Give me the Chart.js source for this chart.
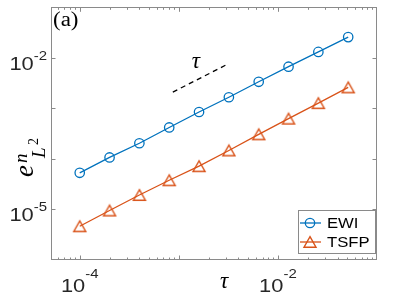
<!DOCTYPE html>
<html>
<head>
<meta charset="utf-8">
<script src="https://cdn.jsdelivr.net/npm/chart.js@4.4.1/dist/chart.umd.min.js"></script>
<style>
html,body{margin:0;padding:0;background:#fff;}
canvas{display:block;}
</style>
</head>
<body>
<canvas id="c" width="395" height="296"></canvas>
<script>
// ---- data ----
const tau  = [1e-4, 2e-4, 4e-4, 8e-4, 1.6e-3, 3.2e-3, 6.4e-3, 1.28e-2, 2.56e-2, 5.12e-2];
const ewi  = [5.31e-5, 1.07e-4, 2.04e-4, 4.19e-4, 8.47e-4, 1.66e-3, 3.36e-3, 6.68e-3, 1.31e-2, 2.57e-2];
const tsfp = [4.65e-6, 9.53e-6, 1.93e-5, 3.78e-5, 7.18e-5, 1.47e-4, 3.06e-4, 6.27e-4, 1.27e-3, 2.60e-3];
const refX = [8.7e-4, 3.1e-3];
const refY = [2.1e-3, 7.48e-3];
const seriesNames = ['EWI', 'TSFP'];
const xTickValues = [1e-4, 1e-2];
const xTickExps   = ['-4', '-2'];
const yTickValues = [1e-5, 1e-2];
const yTickExps   = ['-5', '-2'];
const xMajor = [1e-4, 1e-3, 1e-2];
const yMajor = [1e-5, 1e-4, 1e-3, 1e-2];
const xRange = [5.13e-5, 1e-1];
const yRange = [1e-6, 1e-1];

const BLUE = '#0072BD', ORANGE = '#D95319';
const SX = 1.15;

function triImage(color){
  const c = document.createElement('canvas');
  c.width = 18; c.height = 18;
  const g = c.getContext('2d');
  g.strokeStyle = color; g.lineWidth = 1.4; g.lineJoin = 'miter';
  g.beginPath();
  g.moveTo(9, 3.6); g.lineTo(15, 14.2); g.lineTo(3, 14.2); g.closePath();
  g.stroke();
  return c;
}
const triImg = triImage(ORANGE);

function stretchText(ctx, s, x, y, sx){
  ctx.save(); ctx.translate(x, y); ctx.scale(sx, 1); ctx.fillText(s, 0, 0); ctx.restore();
}
function pow10Label(ctx, exp, x, yBase, ySup, align){
  ctx.font = '19px "Liberation Sans", Arial, sans-serif';
  const w1 = ctx.measureText('10').width * SX;
  ctx.font = '13px "Liberation Sans", Arial, sans-serif';
  const w2 = ctx.measureText(exp).width * SX;
  let x0 = align === 'center' ? x - (w1 + w2) / 2 : x - (w1 + w2);
  ctx.textAlign = 'left';
  ctx.font = '19px "Liberation Sans", Arial, sans-serif';
  stretchText(ctx, '10', x0, yBase, SX);
  ctx.font = '13px "Liberation Sans", Arial, sans-serif';
  stretchText(ctx, exp, x0 + w1, ySup, SX);
}

const decor = {
  id: 'decor',
  beforeDraw(chart){
    const ctx = chart.ctx;
    ctx.save(); ctx.fillStyle = '#fff'; ctx.fillRect(0, 0, chart.width, chart.height); ctx.restore();
  },
  afterDatasetsDraw(chart){
    const ctx = chart.ctx, a = chart.chartArea;
    const xs = chart.scales.x, ys = chart.scales.y;
    ctx.save();
    // axes box
    ctx.strokeStyle = '#8a8a8a'; ctx.lineWidth = 1;
    ctx.strokeRect(Math.round(a.left) + 0.5, Math.round(a.top) + 0.5,
                   Math.round(a.right - a.left) - 1, Math.round(a.bottom - a.top) - 1);
    // ticks
    ctx.beginPath();
    for (const v of xMajor){
      const px = Math.round(xs.getPixelForValue(v)) + 0.5;
      ctx.moveTo(px, a.bottom); ctx.lineTo(px, a.bottom - 4.5);
      ctx.moveTo(px, a.top); ctx.lineTo(px, a.top + 4.5);
    }
    for (let d = -5; d <= -2; d++){
      for (let m = 2; m <= 9; m++){
        const v = m * Math.pow(10, d);
        if (v <= xRange[0] || v >= xRange[1]) continue;
        const px = Math.round(xs.getPixelForValue(v)) + 0.5;
        ctx.moveTo(px, a.bottom); ctx.lineTo(px, a.bottom - 2.5);
        ctx.moveTo(px, a.top); ctx.lineTo(px, a.top + 2.5);
      }
    }
    for (const v of yMajor){
      const py = Math.round(ys.getPixelForValue(v)) + 0.5;
      ctx.moveTo(a.left, py); ctx.lineTo(a.left + 4.5, py);
      ctx.moveTo(a.right, py); ctx.lineTo(a.right - 4.5, py);
    }
    ctx.stroke();

    // tick labels
    ctx.fillStyle = '#262626';
    xTickValues.forEach((v, i) => {
      const px = xs.getPixelForValue(v);
      pow10Label(ctx, xTickExps[i], px, 292, 278, 'center');
    });
    yTickValues.forEach((v, i) => {
      const py = ys.getPixelForValue(v);
      pow10Label(ctx, yTickExps[i], a.left - 4, py + 12, py + 2, 'right');
    });

    // x label tau
    ctx.fillStyle = '#000';
    ctx.textAlign = 'center';
    ctx.font = 'italic 23px "Liberation Serif", "DejaVu Serif", serif';
    ctx.fillText('\u03C4', 224, 288);
    // reference slope label
    const tx = xs.getPixelForValue(1.49e-3), ty = ys.getPixelForValue(8.0e-3);
    ctx.fillText('\u03C4', tx, ty + 5);

    // panel label
    ctx.textAlign = 'left';
    ctx.font = '20px "Liberation Serif", "DejaVu Serif", serif';
    stretchText(ctx, '(a)', a.left + 2, 26, SX);

    // y label e^n_{L^2}, rotated
    ctx.save();
    ctx.translate(32, 177);
    ctx.rotate(-Math.PI / 2);
    ctx.textAlign = 'left';
    ctx.font = 'italic 27px "Liberation Serif", serif';
    ctx.fillText('e', 0, 1);
    ctx.font = 'italic 19px "Liberation Serif", serif';
    ctx.fillText('n', 14, -5);
    ctx.font = 'italic 19px "Liberation Serif", serif';
    ctx.fillText('L', 19, 13);
    ctx.font = '14px "Liberation Serif", serif';
    ctx.fillText('2', 32, 6);
    ctx.restore();

    // legend
    const lx = 298, ly = 210, lw = 78, lh = 44;
    ctx.fillStyle = '#fff';
    ctx.fillRect(lx, ly, lw, lh);
    ctx.strokeStyle = '#8a8a8a'; ctx.lineWidth = 1;
    ctx.strokeRect(lx + 0.5, ly + 0.5, lw - 1, lh - 1);
    const rows = [223, 242];
    const colors = [BLUE, ORANGE];
    rows.forEach((ry, i) => {
      ctx.strokeStyle = colors[i]; ctx.lineWidth = 1.3;
      ctx.beginPath(); ctx.moveTo(lx + 2, ry); ctx.lineTo(lx + 23, ry); ctx.stroke();
      if (i === 0){
        ctx.beginPath(); ctx.arc(lx + 12, ry, 4.7, 0, Math.PI * 2); ctx.stroke();
      } else {
        ctx.drawImage(triImg, lx + 12 - 9, ry - 9);
      }
      ctx.fillStyle = '#000';
      ctx.font = '14.5px "Liberation Sans", Arial, sans-serif';
      stretchText(ctx, seriesNames[i], lx + 29, ry + 5, SX);
    });
    ctx.restore();
  }
};

const mk = (xa, ya) => xa.map((x, i) => ({x: x, y: ya[i]}));

new Chart(document.getElementById('c'), {
  type: 'scatter',
  data: {
    datasets: [
      { label: seriesNames[0], data: mk(tau, ewi), showLine: true,
        borderColor: BLUE, backgroundColor: 'rgba(0,0,0,0)', borderWidth: 1.3,
        pointStyle: 'circle', pointRadius: 4.7, pointBorderWidth: 1.3,
        pointBorderColor: BLUE, pointBackgroundColor: 'rgba(0,0,0,0)' },
      { label: seriesNames[1], data: mk(tau, tsfp), showLine: true,
        borderColor: ORANGE, backgroundColor: 'rgba(0,0,0,0)', borderWidth: 1.3,
        pointStyle: triImg, pointRadius: 6 },
      { label: 'ref', data: mk(refX, refY), showLine: true,
        borderColor: '#000', borderWidth: 1.3, borderDash: [5, 4],
        pointRadius: 0 }
    ]
  },
  options: {
    responsive: false, animation: false, devicePixelRatio: 1,
    layout: { padding: { left: 51, right: 18, top: 4, bottom: 36 } },
    scales: {
      x: { type: 'logarithmic', min: xRange[0], max: xRange[1], display: false },
      y: { type: 'logarithmic', min: yRange[0], max: yRange[1], display: false }
    },
    plugins: { legend: { display: false }, tooltip: { enabled: false } },
    elements: { line: { tension: 0 } }
  },
  plugins: [decor]
});
</script>
</body>
</html>
